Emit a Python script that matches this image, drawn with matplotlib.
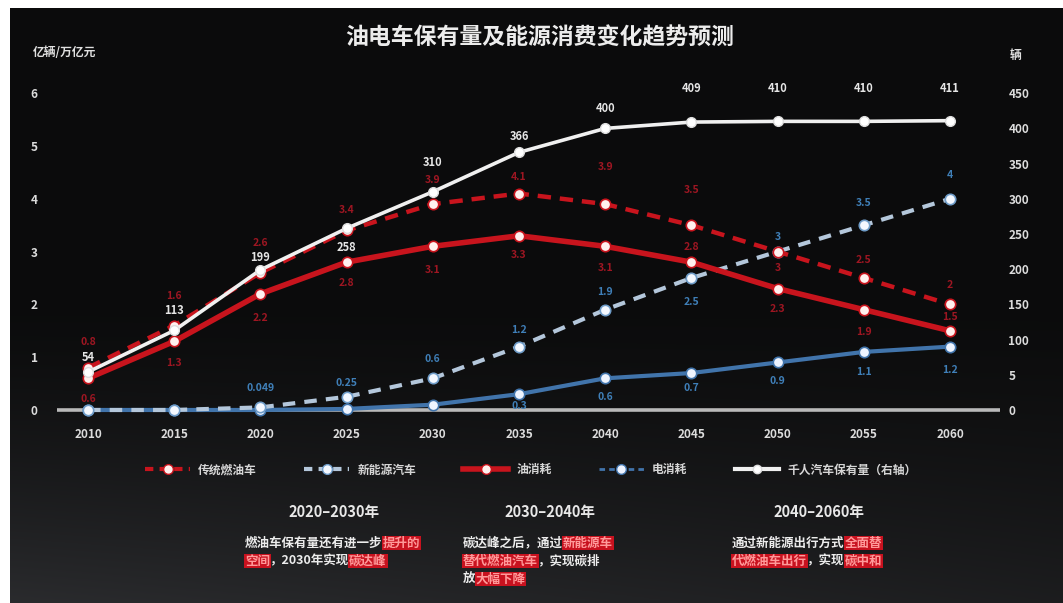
import numpy as np
import matplotlib
matplotlib.use("Agg")
import matplotlib.pyplot as plt
from matplotlib.lines import Line2D

plt.rcParams['font.family'] = ['Noto Sans CJK SC', 'DejaVu Sans']

W, H = 1063, 603

# ---- data ----
years = [2010, 2015, 2020, 2025, 2030, 2035, 2040, 2045, 2050, 2055, 2060]
fuel_cars = [0.8, 1.6, 2.6, 3.4, 3.9, 4.1, 3.9, 3.5, 3.0, 2.5, 2.0]        # 传统燃油车 (亿辆)
nev_cars = [0, 0, 0.049, 0.25, 0.6, 1.2, 1.9, 2.5, 3.0, 3.5, 4.0]          # 新能源汽车 (亿辆)
oil_use = [0.6, 1.3, 2.2, 2.8, 3.1, 3.3, 3.1, 2.8, 2.3, 1.9, 1.5]          # 油消耗 (万亿元)
power_use = [0, 0, 0, 0.02, 0.1, 0.3, 0.6, 0.7, 0.9, 1.1, 1.2]             # 电消耗 (万亿元)
cars_per_1000 = [54, 113, 199, 258, 310, 366, 400, 409, 410, 410, 411]     # 千人汽车保有量 (辆)

left_ticks = [0, 1, 2, 3, 4, 5, 6]
right_ticks = [0, 50, 100, 150, 200, 250, 300, 350, 400, 450]
right_tick_labels = ["0", "5", "100", "150", "200", "250", "300", "350", "400", "450"]

series_names = ["传统燃油车", "新能源汽车", "油消耗", "电消耗", "千人汽车保有量（右轴）"]
title = "油电车保有量及能源消费变化趋势预测"

# label offsets in pixels (None = no label)
fuel_dy = [26, 30, 30, 20, 24, 17, 37, 35, -16, 18, 19]
nev_dy = [None, None, 19, 14, 19, 17, 18, -24, 15, 22, 24]
oil_dy = [-21, -22, -24, -21, -24, -19, -22, 15, -20, -22, 14]
power_dy = [None, None, None, None, None, -12, -19, -15, -19, -20, -23]
cars_dy = [14, 20, 12, -19, 29, 16, 20, 34, 33, 33, 32]

RED = '#c8141d'
RED_TXT = '#9e1622'
BLUE = '#4174ab'
BLUE_TXT = '#3f7fb8'
NEV = '#b4c7db'
WHITE = '#f0f0f0'

fig = plt.figure(figsize=(W / 100, H / 100), dpi=100, facecolor='white')

# dark panel with a soft gradient towards the bottom
bg = fig.add_axes([10 / W, 0, 1 - 10 / W, 1 - 8 / H])
yy, xx = np.mgrid[0:1:300j, 0:1:300j]
shade = 0.045 + 0.12 * np.clip((yy - 0.5) / 0.5, 0, 1) ** 1.4 * (1 - 0.45 * xx)
img = np.dstack([shade, shade * 1.02, shade * 1.08])
bg.imshow(np.clip(img, 0, 1), aspect='auto', extent=[0, 1, 0, 1], origin='upper')
bg.set_axis_off()

ax = fig.add_axes([57 / W, 1 - 415 / H, (1000 - 57) / W, (415 - 77) / H])
ax.patch.set_alpha(0)
ax.set_xlim(2008.2, 2062.9)
ax.set_ylim(-0.095, 6.307)
for s in ax.spines.values():
    s.set_visible(False)
ax.axhline(0, color='#b9b9b9', lw=2.6, zorder=1)

mk = dict(marker='o', ms=7.5, mew=1.2)
l_power, = ax.plot(years, power_use, color=BLUE, lw=3, mfc='#eef4ff', mec=BLUE, zorder=2, **mk)
l_nev, = ax.plot(years, nev_cars, color=NEV, lw=3, ls=(0, (3, 2.2)), mfc='#f4f8ff', mec='#6f9cc8', zorder=3, **mk)
l_oil, = ax.plot(years, oil_use, color=RED, lw=4, mfc='#fff0ee', mec=RED, zorder=4, **mk)
l_fuel, = ax.plot(years, fuel_cars, color=RED, lw=3.2, ls=(0, (3, 2)), mfc='#fff0ee', mec=RED, zorder=5, **mk)
for l in (l_power, l_nev, l_oil, l_fuel):
    l.set_clip_on(False)


def put_labels(a, xs, vals, dys, color, size=7.5):
    for x, v, dy in zip(xs, vals, dys):
        if dy is None:
            continue
        a.annotate("{:g}".format(v), (x, v), xytext=(0, dy), textcoords='offset pixels',
                   ha='center', va='center', color=color, fontsize=size, fontweight='bold',
                   zorder=6)


put_labels(ax, years, fuel_cars, fuel_dy, RED_TXT)
put_labels(ax, years, nev_cars, nev_dy, BLUE_TXT)
put_labels(ax, years, oil_use, oil_dy, RED_TXT)
put_labels(ax, years, power_use, power_dy, BLUE_TXT)

ax.set_xticks(years)
ax.set_xticklabels([str(y) for y in years])
ax.set_yticks(left_ticks)
ax.tick_params(axis='both', length=0, colors='#dcdcdc', labelsize=8.5)
ax.tick_params(axis='x', pad=9)
ax.tick_params(axis='y', pad=14)
for t in ax.get_xticklabels() + ax.get_yticklabels():
    t.set_fontweight('bold')

ax2 = ax.twinx()
ax2.set_ylim(-0.095 * 75, 6.307 * 75)
for s in ax2.spines.values():
    s.set_visible(False)
l_cars, = ax2.plot(years, cars_per_1000, color=WHITE, lw=2.6, marker='o', ms=7,
                   mfc='white', mec='#dddddd', zorder=5)
put_labels(ax2, years, cars_per_1000, cars_dy, '#e6e6e6', size=8)
ax2.set_yticks(right_ticks)
ax2.set_yticklabels(right_tick_labels)
ax2.tick_params(axis='y', length=0, colors='#dcdcdc', labelsize=8.5, pad=6)
for t in ax2.get_yticklabels():
    t.set_fontweight('bold')

# title and units
fig.text(540 / W, 1 - 38 / H, title, ha='center', va='center', color='#ececec',
         fontsize=16.5, fontweight='bold')
fig.text(33 / W, 1 - 52 / H, "亿辆/万亿元", ha='left', va='center', color='#e0e0e0',
         fontsize=8.5, fontweight='bold')
fig.text(1010 / W, 1 - 55 / H, "辆", ha='left', va='center', color='#e0e0e0',
         fontsize=8.5, fontweight='bold')

# legend
handles = [
    Line2D([], [], color=RED, lw=3, ls=(0, (2, 1.5)), marker='o', ms=7, mfc='#fff0ee', mec=RED),
    Line2D([], [], color=NEV, lw=3, ls=(0, (2, 1.5)), marker='o', ms=7, mfc='#f4f8ff', mec='#6f9cc8'),
    Line2D([], [], color=RED, lw=4, marker='o', ms=7, mfc='#fff0ee', mec=RED),
    Line2D([], [], color=BLUE, lw=2, ls=(0, (2, 1.5)), marker='o', ms=7, mfc='#eef4ff', mec=BLUE),
    Line2D([], [], color=WHITE, lw=3, marker='o', ms=6, mfc='white', mec='#dddddd'),
]
leg = fig.legend(handles, series_names, loc='center', bbox_to_anchor=(531 / W, 1 - 470 / H),
                 ncol=5, frameon=False, fontsize=8.5, handlelength=3.8, handletextpad=0.7,
                 columnspacing=4.0)
for t in leg.get_texts():
    t.set_color('#d6d6d6')
    t.set_fontweight('bold')

# period notes
periods = ["2020–2030年", "2030–2040年", "2040–2060年"]
period_x = [334, 550, 819]
notes = [
    [[("燃油车保有量还有进一步", 'w'), ("提升的", 'r')],
     [("空间", 'r'), ("，2030年实现", 'w'), ("碳达峰", 'r')]],
    [[("碳达峰之后，通过", 'w'), ("新能源车", 'r')],
     [("替代燃油汽车", 'r'), ("，实现碳排", 'w')],
     [("放", 'w'), ("大幅下降", 'r')]],
    [[("通过新能源出行方式", 'w'), ("全面替", 'r')],
     [("代燃油车出行", 'r'), ("，实现", 'w'), ("碳中和", 'r')]],
]
note_x = [245, 463, 732]
line_y = [543, 561, 579]

for px, label in zip(period_x, periods):
    fig.text(px / W, 1 - 512 / H, label, ha='center', va='center', color='#e8e8e8',
             fontsize=10.5, fontweight='bold')

renderer = fig.canvas.get_renderer()
for x0, lines in zip(note_x, notes):
    for y, parts in zip(line_y, lines):
        x = x0
        for s, c in parts:
            if c == 'r':
                t = fig.text(x / W, 1 - y / H, s, ha='left', va='center', color='#ff9a9a',
                             fontsize=9, fontweight='bold',
                             bbox=dict(facecolor='#c8121f', edgecolor='none', pad=0.6))
            else:
                t = fig.text(x / W, 1 - y / H, s, ha='left', va='center', color='#ececec',
                             fontsize=9, fontweight='bold')
            x += t.get_window_extent(renderer).width

fig.savefig("out.png", dpi=100, facecolor=fig.get_facecolor())
